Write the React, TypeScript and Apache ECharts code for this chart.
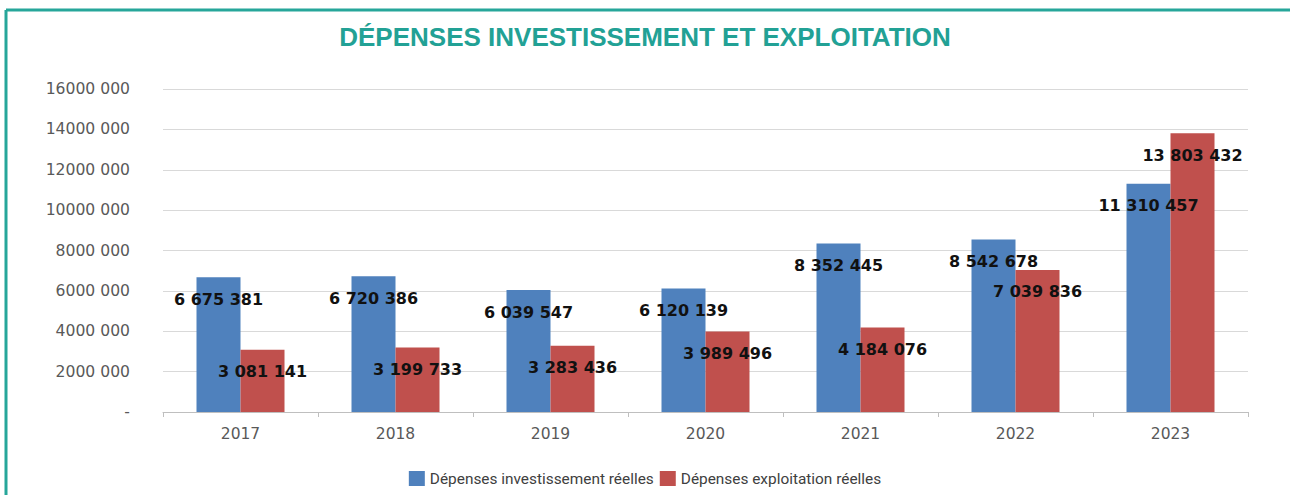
import React, { useEffect, useRef } from "react";
import * as echarts from "echarts";

const years = ["2017", "2018", "2019", "2020", "2021", "2022", "2023"];
const investissement = [6675381, 6720386, 6039547, 6120139, 8352445, 8542678, 11310457];
const exploitation = [3081141, 3199733, 3283436, 3989496, 4184076, 7039836, 13803432];
const seriesNames = ["Dépenses investissement réelles", "Dépenses exploitation réelles"];
const titleText = "DÉPENSES INVESTISSEMENT ET EXPLOITATION";

const fmtSpaces = (v: number) => String(Math.round(v)).replace(/\B(?=(\d{3})+(?!\d))/g, " ");
const fmtAxis = (v: number) => (v === 0 ? "-" : `${Math.round(v / 1000)} 000`);

export default function App() {
  const ref = useRef<HTMLDivElement>(null);
  useEffect(() => {
    if (!ref.current) return;
    const chart = echarts.init(ref.current, null, { renderer: "svg" });
    const labelStyle = {
      show: true,
      position: "insideTop",
      distance: 14,
      color: "#111111",
      fontFamily: "DejaVu Sans",
      fontWeight: "bold",
      fontSize: 16,
      formatter: (p: any) => fmtSpaces(p.value),
    };
    chart.setOption({
      animation: false,
      backgroundColor: "#ffffff",
      title: {
        text: titleText,
        left: "center",
        top: 19,
        textStyle: {
          color: "#22a195",
          fontFamily: "Liberation Sans",
          fontWeight: "bold",
          fontSize: 26,
        },
      },
      graphic: [
        {
          type: "line",
          shape: { x1: 6, y1: 10, x2: 1290, y2: 10 },
          style: { stroke: "#26a69a", lineWidth: 3 },
        },
        {
          type: "line",
          shape: { x1: 6, y1: 10, x2: 6, y2: 495 },
          style: { stroke: "#26a69a", lineWidth: 3 },
        },
      ],
      legend: {
        bottom: 4,
        left: "center",
        itemWidth: 16,
        itemHeight: 15,
        itemGap: 6,
        icon: "rect",
        textStyle: { fontFamily: "Roboto", fontSize: 15.4, color: "#404040" },
        data: seriesNames,
      },
      grid: { left: 163, right: 42, top: 89, bottom: 83 },
      xAxis: {
        type: "category",
        data: years,
        axisLine: { show: true, lineStyle: { color: "#bfbfbf" } },
        axisTick: { show: true, length: 5, lineStyle: { color: "#bfbfbf" } },
        axisLabel: { color: "#595959", fontFamily: "DejaVu Sans", fontSize: 15.5, margin: 14 },
      },
      yAxis: {
        type: "value",
        min: 0,
        max: 16000000,
        interval: 2000000,
        axisLine: { show: false },
        axisTick: { show: false },
        splitLine: { lineStyle: { color: "#d9d9d9" } },
        axisLabel: {
          color: "#595959",
          fontFamily: "DejaVu Sans",
          fontSize: 15.6,
          margin: 33,
          formatter: fmtAxis,
        },
      },
      series: [
        {
          name: seriesNames[0],
          type: "bar",
          data: investissement,
          barWidth: 44,
          barGap: "0%",
          itemStyle: { color: "#4f81bd" },
          label: labelStyle,
        },
        {
          name: seriesNames[1],
          type: "bar",
          data: exploitation,
          barWidth: 44,
          barGap: "0%",
          itemStyle: { color: "#c0504d" },
          label: labelStyle,
        },
      ],
    });
    return () => chart.dispose();
  }, []);
  return (
    <div
      ref={ref}
      style={{ position: "absolute", left: 0, top: 0, width: 1290, height: 495 }}
    />
  );
}
